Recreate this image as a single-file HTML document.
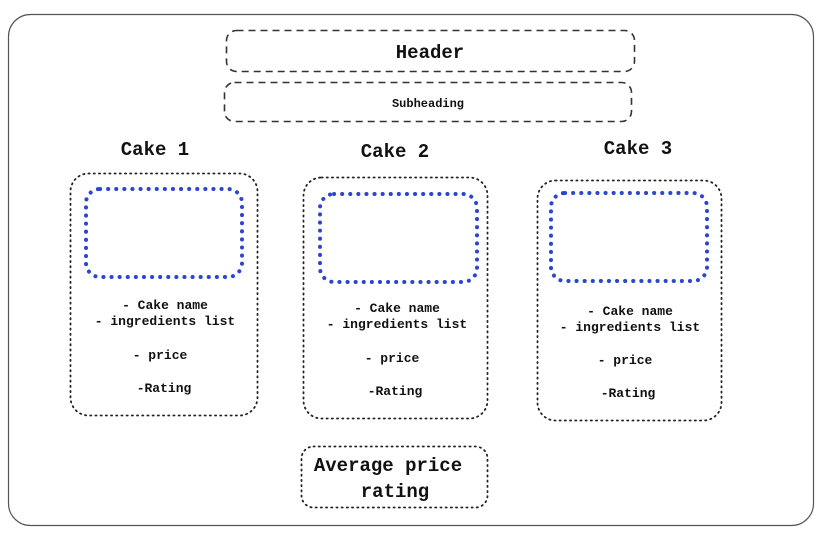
<!DOCTYPE html>
<html><head><meta charset="utf-8"><style>
html,body{margin:0;padding:0;background:#fff;}
svg{display:block}
text{font-family:"Liberation Mono","DejaVu Sans Mono",monospace;font-weight:bold;fill:#111;text-anchor:middle}
</style></head><body>
<svg width="828" height="533" viewBox="0 0 828 533">
<rect x="8.5" y="14.5" width="805" height="511" rx="22" fill="#fff" stroke="#555" stroke-width="1.2"/>
<rect x="226.5" y="30.5" width="408" height="41" rx="10" fill="none" stroke="#333" stroke-width="1.6" stroke-dasharray="7,5"/>
<text x="430" y="58" font-size="19">Header</text>
<rect x="224.5" y="82.5" width="407" height="39" rx="10" fill="none" stroke="#333" stroke-width="1.6" stroke-dasharray="7,5"/>
<text x="428" y="107" font-size="12">Subheading</text>

<g stroke="#222" stroke-width="1.8" stroke-dasharray="1.2,4" stroke-linecap="round" fill="none">
<rect x="70.5" y="173.5" width="187" height="242" rx="18"/>
<rect x="303.5" y="177.5" width="184" height="241" rx="18"/>
<rect x="537.5" y="180.5" width="184" height="240" rx="18"/>
<rect x="301.5" y="446.5" width="186" height="61" rx="12"/>
</g>
<g stroke="#2b45d0" stroke-width="4" stroke-dasharray="0.1,8" stroke-linecap="round" fill="none">
<rect x="86" y="189" width="156" height="88" rx="14"/>
<rect x="320" y="194" width="157" height="88" rx="14"/>
<rect x="551" y="193" width="156" height="88" rx="14"/>
</g>

<text x="155" y="155" font-size="19">Cake 1</text>
<text x="395" y="157" font-size="19">Cake 2</text>
<text x="638" y="154" font-size="19">Cake 3</text>

<g font-size="13">
<text x="165" y="309">- Cake name</text>
<text x="165" y="325">- ingredients list</text>
<text x="160" y="359">- price</text>
<text x="164" y="392">-Rating</text>

<text x="397" y="312">- Cake name</text>
<text x="397" y="328">- ingredients list</text>
<text x="392" y="362">- price</text>
<text x="395" y="395">-Rating</text>

<text x="630" y="315">- Cake name</text>
<text x="630" y="331">- ingredients list</text>
<text x="625" y="364">- price</text>
<text x="628" y="397">-Rating</text>
</g>
<text x="388" y="471" font-size="19">Average price</text>
<text x="395" y="497" font-size="19">rating</text>
</svg>
</body></html>
